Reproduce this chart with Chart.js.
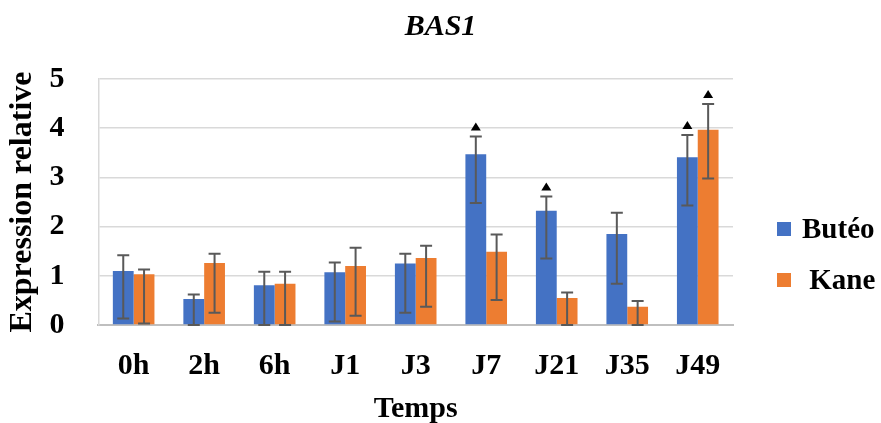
<!DOCTYPE html>
<html>
<head>
<meta charset="utf-8">
<script src="https://cdn.jsdelivr.net/npm/chart.js@4.4.1/dist/chart.umd.min.js"></script>
<style>
  html, body { margin: 0; padding: 0; background: #fff; }
  #wrap { position: relative; width: 881px; height: 423px; }
  #legend { position: absolute; left: 777px; top: 203px; font: bold 29px "Liberation Serif", serif; color: #000; }
  .item { display: flex; align-items: center; height: 51px; white-space: pre; }
  .swatch { width: 14px; height: 14px; margin-right: 11px; }
</style>
</head>
<body>
<div id="wrap">
  <canvas id="chart" width="881" height="423"></canvas>
  <div id="legend"></div>
</div>
<script>
/* BAS1 — expression relative, Butéo vs Kane */
const labels = ["0h", "2h", "6h", "J1", "J3", "J7", "J21", "J35", "J49"];
const seriesNames = ["Butéo", " Kane"];
const seriesColors = ["#4472C4", "#ED7D31"];

const buteo     = [1.10, 0.53, 0.81, 1.07, 1.25, 3.47, 2.32, 1.85, 3.41];
const buteoLow  = [0.13, 0.00, 0.00, 0.07, 0.25, 2.48, 1.35, 0.84, 2.43];
const buteoHigh = [1.42, 0.62, 1.08, 1.27, 1.45, 3.83, 2.61, 2.28, 3.86];
const buteoSig  = [0, 0, 0, 0, 0, 1, 1, 0, 1];

const kane      = [1.03, 1.26, 0.84, 1.20, 1.36, 1.49, 0.55, 0.37, 3.97];
const kaneLow   = [0.03, 0.25, 0.00, 0.19, 0.37, 0.51, 0.00, 0.00, 2.98];
const kaneHigh  = [1.13, 1.45, 1.08, 1.57, 1.61, 1.84, 0.66, 0.49, 4.49];
const kaneSig   = [0, 0, 0, 0, 0, 0, 0, 0, 1];

const yTicks = [0, 1, 2, 3, 4, 5];

const SERIF = '"Liberation Serif", "Times New Roman", serif';
const boldFont = (size) => ({ family: SERIF, size, weight: "bold" });

// barres d'erreur + triangles de significativité
const errorBars = {
  id: "errorBars",
  afterDatasetsDraw(chart) {
    const { ctx } = chart;
    const y = chart.scales.y;
    ctx.save();
    chart.data.datasets.forEach((ds, di) => {
      const meta = chart.getDatasetMeta(di);
      meta.data.forEach((bar, i) => {
        const top = y.getPixelForValue(ds.errHigh[i]);
        const bot = y.getPixelForValue(ds.errLow[i]);
        const x = bar.x;
        ctx.strokeStyle = "#595959";
        ctx.lineWidth = 2;
        ctx.beginPath();
        ctx.moveTo(x, top); ctx.lineTo(x, bot);
        ctx.moveTo(x - 6, top); ctx.lineTo(x + 6, top);
        ctx.moveTo(x - 6, bot); ctx.lineTo(x + 6, bot);
        ctx.stroke();
        if (ds.sig[i]) {
          const b = top - 6;
          ctx.fillStyle = "#000";
          ctx.beginPath();
          ctx.moveTo(x - 5, b);
          ctx.lineTo(x + 5, b);
          ctx.lineTo(x, b - 8);
          ctx.closePath();
          ctx.fill();
        }
      });
    });
    ctx.restore();
  },
};

new Chart(document.getElementById("chart"), {
  type: "bar",
  data: {
    labels,
    datasets: [
      { label: seriesNames[0], data: buteo, backgroundColor: seriesColors[0],
        errLow: buteoLow, errHigh: buteoHigh, sig: buteoSig },
      { label: seriesNames[1], data: kane, backgroundColor: seriesColors[1],
        errLow: kaneLow, errHigh: kaneHigh, sig: kaneSig },
    ],
  },
  options: {
    responsive: false,
    animation: false,
    categoryPercentage: 0.59,
    barPercentage: 1.0,
    layout: { padding: { left: 0, right: 0, top: 0, bottom: 0 } },
    plugins: {
      legend: { display: false },
      tooltip: { enabled: false },
      title: {
        display: true,
        text: "BAS1",
        color: "#000",
        font: { family: SERIF, size: 30, weight: "bold", style: "italic" },
        padding: { top: 9, bottom: 34 },
      },
    },
    scales: {
      x: {
        grid: { display: false, drawTicks: true, tickLength: 19 },
        border: { color: "#bfbfbf", width: 2 },
        ticks: { color: "#000", font: boldFont(30), padding: 4, maxRotation: 0 },
        title: { display: true, text: "Temps", color: "#000", font: boldFont(30), padding: { top: 3, bottom: -4 } },
      },
      y: {
        min: yTicks[0],
        max: yTicks[yTicks.length - 1],
        afterBuildTicks: (s) => { s.ticks = yTicks.map((v) => ({ value: v })); },
        grid: { color: "#d9d9d9", lineWidth: 1.5, drawTicks: true, tickLength: 27, tickColor: "rgba(0,0,0,0)" },
        border: { color: "#d9d9d9", width: 1.5 },
        ticks: { color: "#000", font: boldFont(30), padding: 7 },
        title: { display: true, text: "Expression relative", color: "#000", font: boldFont(32), padding: { top: 4, bottom: 0 } },
      },
      // espace réservé à droite pour la légende
      legendSpace: {
        type: "linear",
        position: "right",
        grid: { display: false, drawTicks: false },
        border: { display: false },
        ticks: { display: false },
        afterFit: (s) => { s.width = 148; },
      },
    },
  },
  plugins: [errorBars],
});

// légende HTML
document.getElementById("legend").innerHTML = seriesNames
  .map((n, i) => `<div class="item"><span class="swatch" style="background:${seriesColors[i]}"></span>${n}</div>`)
  .join("");
</script>
</body>
</html>
